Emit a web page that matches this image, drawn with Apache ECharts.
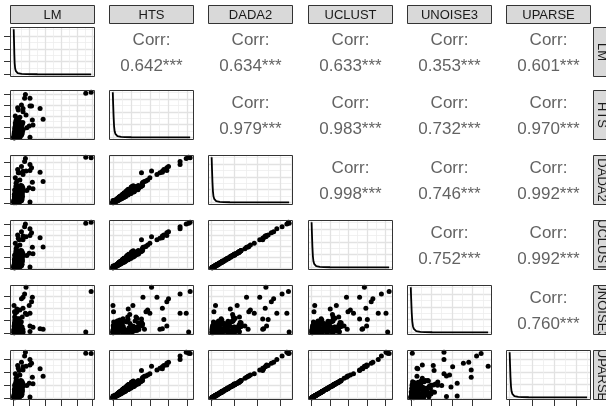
<!DOCTYPE html>
<html><head><meta charset="utf-8">
<script src="https://cdn.jsdelivr.net/npm/echarts@6/dist/echarts.min.js"></script>
<style>html,body{margin:0;padding:0;background:#fff}#c{width:606px;height:407px}</style>
</head><body><div id="c"></div>
<script>
// ---- data ----
const VAR_NAMES = ['LM','HTS','DADA2','UCLUST','UNOISE3','UPARSE'];
const LM = [490,456,69,103,49,113,25,103,29,167,186,78,59,118,10,39,20,2,5,98,15,59,34,44,54,122,25,83,20,74,103,
 3,8,1,15,5,22,2,10,30,4, 18,7,40,12,2,25,6,35,9,50, 14,3,28,11,45,20,5,33,16,55,
 8,24,38,13,48,19,30,10,42,2, 6,12,4,20,9,27,15,36,7,44, 18,26,11,52,21,34,17,40,23,58,
 12,30,5,45,20,8,35,15,50,25, 40,3,28,10,55,18,6,38,14,30, 22,48,9,33,4,26,60,11,42,17, 36,2,24,53,7,31,13,46,19,39];
const HTS = [4150,4070,3610,3610,2990,2900,2740,2900,2530,2660,1700,2080,2370,1620,1990,1870,1780,10,40,1080,1580,2660,1540,1370,1245,1160,1290,910,830,3940,40,
 5,12,20,28,35,42,50,60,70,80, 70,120,90,160,110,200,140,250,170,300, 210,360,250,430,300,500,350,600,420,700,
 500,820,600,980,720,1150,850,1350,1000,8, 15,25,45,65,85,110,140,170,210,260, 240,450,340,630,480,840,620,1100,820,1400,
 120,330,380,650,600,980,850,1300,1100,1550, 80,280,330,600,560,920,800,1250,1050,1500, 50,220,290,550,520,870,760,1200,1000,1600, 25,130,190,370,380,630,560,880,750,1170];
const DADA2 = [3370,3400,3090,2860,2720,2620,2480,2410,2240,2280,1600,2380,2110,1530,1870,1700,1630,170,100,1120,1460,2350,2240,1290,1220,1050,1160,920,820,3300,70,
 30,20,45,15,60,30,70,40,90,60, 110,75,130,100,160,120,190,150,240,200, 270,230,330,290,380,330,450,400,520,480,
 600,580,720,690,860,830,1020,980,1190,10, 40,20,55,50,95,90,150,140,220,210, 300,320,420,450,570,640,760,810,980,1100,
 190,240,460,500,720,760,1010,1030,1280,1250, 130,200,400,460,660,720,950,990,1220,1200, 80,150,340,420,620,680,900,940,1180,1290, 50,90,220,280,450,490,650,700,880,930];
const UCLUST = [4200,4120,3780,3610,3320,3230,3020,2980,2730,2770,1930,2860,2600,1890,2270,2100,1970,170,130,1340,1760,2940,2600,1600,1470,1300,1430,1130,1010,4030,85,
 25,15,40,30,50,45,65,60,85,85, 105,105,135,140,165,170,205,215,250,260, 300,315,360,380,430,445,505,530,595,630,
 705,750,840,890,1000,1070,1180,1250,1390,15, 20,30,50,70,95,120,155,185,235,285, 345,405,490,570,680,770,890,1010,1170,1320,
 235,300,565,620,890,940,1250,1270,1580,1540, 160,245,495,570,815,890,1170,1220,1510,1480, 100,185,420,520,765,840,1110,1160,1460,1590, 60,110,270,345,555,605,800,865,1085,1150];
const UNOISE3 = [3410,75,3190,1610,2810,2550,1090,560,300,340,300,3750,2930,2930,1610,1880,1730,2250,1730,2250,560,2030,1130,830,1310,450,190,1500,1950,1610,110,
 20,150,60,300,10,450,90,220,40,600, 130,30,380,70,250,15,520,110,180,50, 700,260,35,410,140,80,820,25,330,190,
 560,100,45,270,900,160,65,480,120,5, 210,55,350,95,640,170,28,420,230,75, 980,140,310,60,760,200,85,540,1100,280,
 400,250,700,150,950,600,300,1200,500,850, 80,520,1000,330,180,760,1300,450,90,650, 880,120,560,1150,240,420,70,980,360,720, 610,230,830,470,1050,160,540,280,900,350];
const UPARSE = [3400,3430,3220,2940,2730,2660,2490,2520,2280,2240,1650,2420,2140,1580,1860,1750,1680,140,105,1120,1500,2380,2100,1330,1225,1085,1155,945,840,3500,70,
 20,15,35,25,45,40,55,55,75,75, 95,90,115,120,145,145,175,185,215,220, 255,265,310,320,365,375,430,450,505,535,
 600,635,710,755,850,900,1000,1060,1180,10, 20,25,45,60,85,100,135,155,200,240, 295,340,420,480,580,650,760,850,990,1110,
 200,260,470,520,735,790,1030,1070,1300,1290, 135,210,410,480,675,745,970,1025,1245,1240, 85,160,350,440,635,705,920,975,1200,1330, 55,95,225,290,460,510,665,725,900,960];

// correlations of the upper triangle, row by row
const CORR = [0.642,0.634,0.633,0.353,0.601, 0.979,0.983,0.732,0.970, 0.998,0.746,0.992, 0.752,0.992, 0.760];

// axis tick values
const LM_TICKS = [0,100,200,300,400,500];
const HTS_TICKS = [0,1000,2000,3000,4000];
const DADA2_TICKS = [0,1000,2000,3000];
const UCLUST_TICKS = [0,1000,2000,3000,4000];
const UNOISE3_TICKS = [0,1000,2000,3000];
const UPARSE_TICKS = [0,1000,2000,3000];
const DENS_TICKS = [0,1,2,3];

// density curves on the diagonal
const DENS_Y = [3.5,2.6,1.6,0.9,0.5,0.3,0.18,0.12,0.08,0.06,0.045,0.035,0.03,0.025,0.02,0.02];
const LM_DENS_X = [0,2,4,6,9,13,18,25,35,50,80,150,250,350,450,490];
const HTS_DENS_X = [0,20,45,70,100,140,190,250,330,450,650,1000,1800,2700,3600,4150];
const DADA2_DENS_X = [0,16,36,56,80,112,152,200,264,360,520,800,1460,2200,2950,3400];
const UCLUST_DENS_X = [0,20,45,70,100,140,190,250,330,450,650,1000,1800,2700,3650,4200];
const UNOISE3_DENS_X = [0,20,45,72,105,150,200,265,350,470,680,1040,1800,2600,3300,3750];
const UPARSE_DENS_X = [0,17,38,60,86,120,165,215,285,390,560,860,1500,2300,3000,3500];

// ---- layout ----
const COL_X = [10,109,208,308,407,506];
const ROW_Y = [27,90,155,220,285,350];
const PW = 85, PH = 50;
const FONT = "'Liberation Sans', Arial, sans-serif";

const VALUES = [LM,HTS,DADA2,UCLUST,UNOISE3,UPARSE];
const TICKS = [LM_TICKS,HTS_TICKS,DADA2_TICKS,UCLUST_TICKS,UNOISE3_TICKS,UPARSE_TICKS];
const DENS_X = [LM_DENS_X,HTS_DENS_X,DADA2_DENS_X,UCLUST_DENS_X,UNOISE3_DENS_X,UPARSE_DENS_X];

function limits(arr){ const lo=Math.min(...arr), hi=Math.max(...arr), p=(hi-lo)*0.05; return [lo-p, hi+p]; }
function minorsOf(ticks, lim){ const s=ticks[1]-ticks[0], out=[]; for(let k=-1;k<ticks.length;k++){ const v=ticks[0]+s*(k+0.5); if(v>lim[0]&&v<lim[1]) out.push(v);} return out; }
function addAxes(list, gi, lim, ticks, showTicks, isX){
  const common = {type:'value', gridIndex:gi, min:lim[0], max:lim[1], axisLine:{show:false,onZero:false}, axisLabel:{show:false}, silent:true, animation:false};
  list.push(Object.assign({}, common, {position:isX?'top':'right', axisTick:{show:false, customValues:minorsOf(ticks,lim)},
    splitLine:{show:true, lineStyle:{color:'#eeeeee', width:0.8}}}));
  list.push(Object.assign({}, common, {position:isX?'bottom':'left', axisTick:{show:showTicks, customValues:ticks, length:6, lineStyle:{color:'#333', width:1}},
    splitLine:{show:true, lineStyle:{color:'#e2e2e2', width:1.3}}}));
  return list.length-1;
}

const grid=[], xAxis=[], yAxis=[], series=[], graphic=[];
let gi=0, ci=0;
for(let r=0;r<6;r++){
  for(let c=0;c<6;c++){
    if(r<c){
      const cx = COL_X[c]+PW/2, cy = ROW_Y[r]+PH/2;
      graphic.push({type:'text', x:cx, y:cy-12, silent:true, z:60, style:{text:'Corr:', fill:'#636363', font:'17px '+FONT, align:'center', verticalAlign:'middle'}});
      graphic.push({type:'text', x:cx, y:cy+14, silent:true, z:60, style:{text:CORR[ci].toFixed(3)+'***', fill:'#636363', font:'17px '+FONT, align:'center', verticalAlign:'middle'}});
      ci++;
      continue;
    }
    grid.push({left:COL_X[c], top:ROW_Y[r], width:PW, height:PH, show:true, backgroundColor:'#fff', borderWidth:0});
    const xi = addAxes(xAxis, gi, limits(VALUES[c]), TICKS[c], r===5, true);
    if(r===c){
      const yi = addAxes(yAxis, gi, limits([0].concat(DENS_Y)), DENS_TICKS, c===0, false);
      series.push({type:'line', xAxisIndex:xi, yAxisIndex:yi, data:DENS_X[c].map((x,k)=>[x,DENS_Y[k]]), symbol:'none', silent:true, animation:false,
        lineStyle:{color:'#000', width:1.8}});
    } else {
      const yi = addAxes(yAxis, gi, limits(VALUES[r]), TICKS[r], c===0, false);
      series.push({type:'scatter', xAxisIndex:xi, yAxisIndex:yi, data:VALUES[c].map((x,k)=>[x,VALUES[r][k]]), symbolSize:5, silent:true, animation:false,
        itemStyle:{color:'#000', opacity:1}});
    }
    graphic.push({type:'rect', silent:true, z:50, shape:{x:COL_X[c]+0.5, y:ROW_Y[r]+0.5, width:PW-1, height:PH-1}, style:{fill:null, stroke:'#333', lineWidth:1}});
    gi++;
  }
}
// top strips
for(let c=0;c<6;c++){
  graphic.push({type:'rect', silent:true, z:40, shape:{x:COL_X[c]+0.5, y:5.5, width:PW-1, height:18}, style:{fill:'#d9d9d9', stroke:'#333', lineWidth:1}});
  graphic.push({type:'text', silent:true, z:45, x:COL_X[c]+PW/2, y:15, style:{text:VAR_NAMES[c], fill:'#1a1a1a', font:'13px '+FONT, align:'center', verticalAlign:'middle'}});
}
// right strips
for(let r=0;r<6;r++){
  graphic.push({type:'rect', silent:true, z:40, shape:{x:593.5, y:ROW_Y[r]+0.5, width:18, height:PH-1}, style:{fill:'#d9d9d9', stroke:null}});
  graphic.push({type:'text', silent:true, z:45, x:602, y:ROW_Y[r]+PH/2, rotation:-Math.PI/2, style:{text:VAR_NAMES[r], fill:'#1a1a1a', font:'13px '+FONT, align:'center', verticalAlign:'middle'}});
  graphic.push({type:'rect', silent:true, z:80, shape:{x:593.5, y:ROW_Y[r]+0.5, width:18, height:PH-1}, style:{fill:null, stroke:'#333', lineWidth:1}});
  const y0 = r===0 ? 0 : ROW_Y[r-1]+PH;
  graphic.push({type:'rect', silent:true, z:70, shape:{x:592, y:y0, width:16, height:ROW_Y[r]-y0}, style:{fill:'#fff'}});
}
graphic.push({type:'rect', silent:true, z:70, shape:{x:592, y:ROW_Y[5]+PH, width:16, height:20}, style:{fill:'#fff'}});

const chart = echarts.init(document.getElementById('c'), null, {renderer:'canvas'});
chart.setOption({animation:false, backgroundColor:'#fff', grid, xAxis, yAxis, series, graphic});
</script></body></html>
